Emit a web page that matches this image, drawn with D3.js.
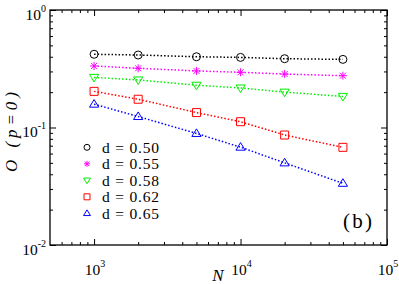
<!DOCTYPE html>
<html>
<head>
<meta charset="utf-8">
<script src="https://cdn.jsdelivr.net/npm/d3@7"></script>
<style>
  body { margin: 0; background: #fff; }
</style>
</head>
<body>
<svg id="canvas" width="399" height="284"></svg>
<script>
// system sizes
let sizes = [1000, 2000, 5000, 10000, 20000, 50000];

// O(p=0) for each d
let d050 = [0.42, 0.414, 0.40, 0.395, 0.385, 0.38];
let d055 = [0.334, 0.319, 0.303, 0.295, 0.285, 0.276];
let d058 = [0.267, 0.254, 0.229, 0.217, 0.200, 0.184];
let d062 = [0.203, 0.174, 0.134, 0.112, 0.0863, 0.0678];
let d065 = [0.158, 0.124, 0.089, 0.068, 0.050, 0.0335];

let legendLabels = ["d = 0.50", "d = 0.55", "d = 0.58", "d = 0.62", "d = 0.65"];
let colors = ["#000000", "#ff00ff", "#00ee00", "#ff0000", "#0000ff"];
let shapes = ["circle", "star", "tridown", "square", "triup"];

let xMajor = [1e3, 1e4, 1e5];
let yMajor = [1e-2, 1e-1, 1e0];
let xTickLabels = [["10", "3"], ["10", "4"], ["10", "5"]];
let yTickLabels = [["10", "-2"], ["10", "-1"], ["10", "0"]];

let series = [d050, d055, d058, d062, d065];

let canvas = d3.select("#canvas");

let mLeft = 50, mRight = 387, mTop = 10, mBottom = 245;
let serif = "Liberation Serif";

let x = d3.scaleLog().domain([500, 1e5]).range([mLeft, mRight]);
let y = d3.scaleLog().domain([1e-2, 1]).range([mBottom, mTop]);

// marker path, centred at 0,0
let markerPath = (shape, s) => {
  let p = d3.path();
  if (shape === "circle") {
    p.arc(0, 0, s, 0, 2 * Math.PI);
  } else if (shape === "square") {
    p.rect(-s, -s, 2 * s, 2 * s);
  } else if (shape === "triup") {
    p.moveTo(0, -s * 1.15); p.lineTo(s * 1.15, s * 0.75); p.lineTo(-s * 1.15, s * 0.75); p.closePath();
  } else if (shape === "tridown") {
    p.moveTo(0, s * 1.15); p.lineTo(s * 1.15, -s * 0.75); p.lineTo(-s * 1.15, -s * 0.75); p.closePath();
  } else if (shape === "star") {
    let k = s * 0.75;
    p.moveTo(-s, 0); p.lineTo(s, 0);
    p.moveTo(0, -s); p.lineTo(0, s);
    p.moveTo(-k, -k); p.lineTo(k, k);
    p.moveTo(-k, k); p.lineTo(k, -k);
  }
  return p.toString();
};

// ticks, pointing inward on all four sides
let xMinor = x.ticks().filter(v => !xMajor.includes(v) && v > 500 && v < 1e5);
let yMinor = y.ticks().filter(v => !yMajor.includes(v) && v > 0.01 && v < 1);

let drawAxis = (axisFn, scale, pos, values, len) => {
  let g = canvas.append("g")
                .attr("transform", pos)
                .call(axisFn(scale).tickValues(values).tickSize(len).tickFormat(""));
  g.select(".domain").remove();
  g.selectAll("line").attr("stroke", "#000").attr("stroke-width", 1);
};

drawAxis(d3.axisBottom, x, `translate(0,${mBottom})`, xMinor, -3);
drawAxis(d3.axisBottom, x, `translate(0,${mBottom})`, xMajor, -6);
drawAxis(d3.axisTop, x, `translate(0,${mTop})`, xMinor, -3);
drawAxis(d3.axisTop, x, `translate(0,${mTop})`, xMajor, -6);
drawAxis(d3.axisLeft, y, `translate(${mLeft},0)`, yMinor, -3);
drawAxis(d3.axisLeft, y, `translate(${mLeft},0)`, yMajor, -6);
drawAxis(d3.axisRight, y, `translate(${mRight},0)`, yMinor, -3);
drawAxis(d3.axisRight, y, `translate(${mRight},0)`, yMajor, -6);

canvas.append("rect")
      .attr("x", mLeft).attr("y", mTop)
      .attr("width", mRight - mLeft).attr("height", mBottom - mTop)
      .attr("fill", "none").attr("stroke", "#000").attr("stroke-width", 1.3);

// tick labels with exponents
let xl = canvas.selectAll(".xlabel")
               .data(xMajor)
               .enter()
               .append("text")
               .attr("class", "xlabel")
               .attr("x", v => x(v) + 1)
               .attr("y", 275)
               .attr("text-anchor", "middle")
               .attr("font-family", serif)
               .attr("font-size", 15.5);
xl.append("tspan").text((v, i) => xTickLabels[i][0]);
xl.append("tspan").attr("dy", -8).attr("font-size", 10).text((v, i) => xTickLabels[i][1]);

let yl = canvas.selectAll(".ylabel")
               .data(yMajor)
               .enter()
               .append("text")
               .attr("class", "ylabel")
               .attr("x", 46)
               .attr("y", v => y(v) + 9.5)
               .attr("text-anchor", "end")
               .attr("font-family", serif)
               .attr("font-size", 15.5);
yl.append("tspan").text((v, i) => yTickLabels[i][0]);
yl.append("tspan").attr("dy", -8).attr("font-size", 10).text((v, i) => yTickLabels[i][1]);

// axis titles
canvas.append("text")
      .attr("x", 218).attr("y", 281)
      .attr("text-anchor", "middle")
      .attr("font-family", serif)
      .attr("font-size", 17)
      .attr("font-style", "italic")
      .text("N");

canvas.append("text")
      .attr("transform", "translate(17,132) rotate(-90)")
      .attr("text-anchor", "middle")
      .attr("font-family", serif)
      .attr("font-size", 17)
      .attr("font-style", "italic")
      .attr("textLength", 80)
      .attr("lengthAdjust", "spacing")
      .text("O (p=0)");

canvas.append("text")
      .attr("x", 343).attr("y", 228)
      .attr("font-family", serif)
      .attr("font-size", 21)
      .attr("textLength", 29)
      .attr("lengthAdjust", "spacing")
      .text("(b)");

// dotted lines and markers
let line = d3.line()
             .x((v, i) => x(sizes[i]))
             .y(v => y(v));

series.forEach((vals, k) => {
  canvas.append("path")
        .attr("d", line(vals))
        .attr("fill", "none")
        .attr("stroke", colors[k])
        .attr("stroke-width", 1.5)
        .attr("stroke-dasharray", "1.5,2");

  canvas.selectAll(".m" + k)
        .data(vals)
        .enter()
        .append("path")
        .attr("class", "m" + k)
        .attr("transform", (v, i) => `translate(${x(sizes[i])},${y(v)})`)
        .attr("d", markerPath(shapes[k], 4))
        .attr("fill", "none")
        .attr("stroke", colors[k])
        .attr("stroke-width", 1);
});

// legend
let legend = canvas.selectAll(".legend")
                   .data(legendLabels)
                   .enter()
                   .append("g")
                   .attr("class", "legend")
                   .attr("transform", (d, i) => `translate(87,${147.3 + i * 16.5})`);
legend.append("path")
      .attr("d", (d, i) => markerPath(shapes[i], 3))
      .attr("fill", "none")
      .attr("stroke", (d, i) => colors[i])
      .attr("stroke-width", 1);
legend.append("text")
      .attr("x", 15)
      .attr("y", 5.5)
      .attr("font-family", serif)
      .attr("font-size", 15.5)
      .attr("textLength", 57)
      .attr("lengthAdjust", "spacing")
      .text(d => d);
</script>
</body>
</html>
